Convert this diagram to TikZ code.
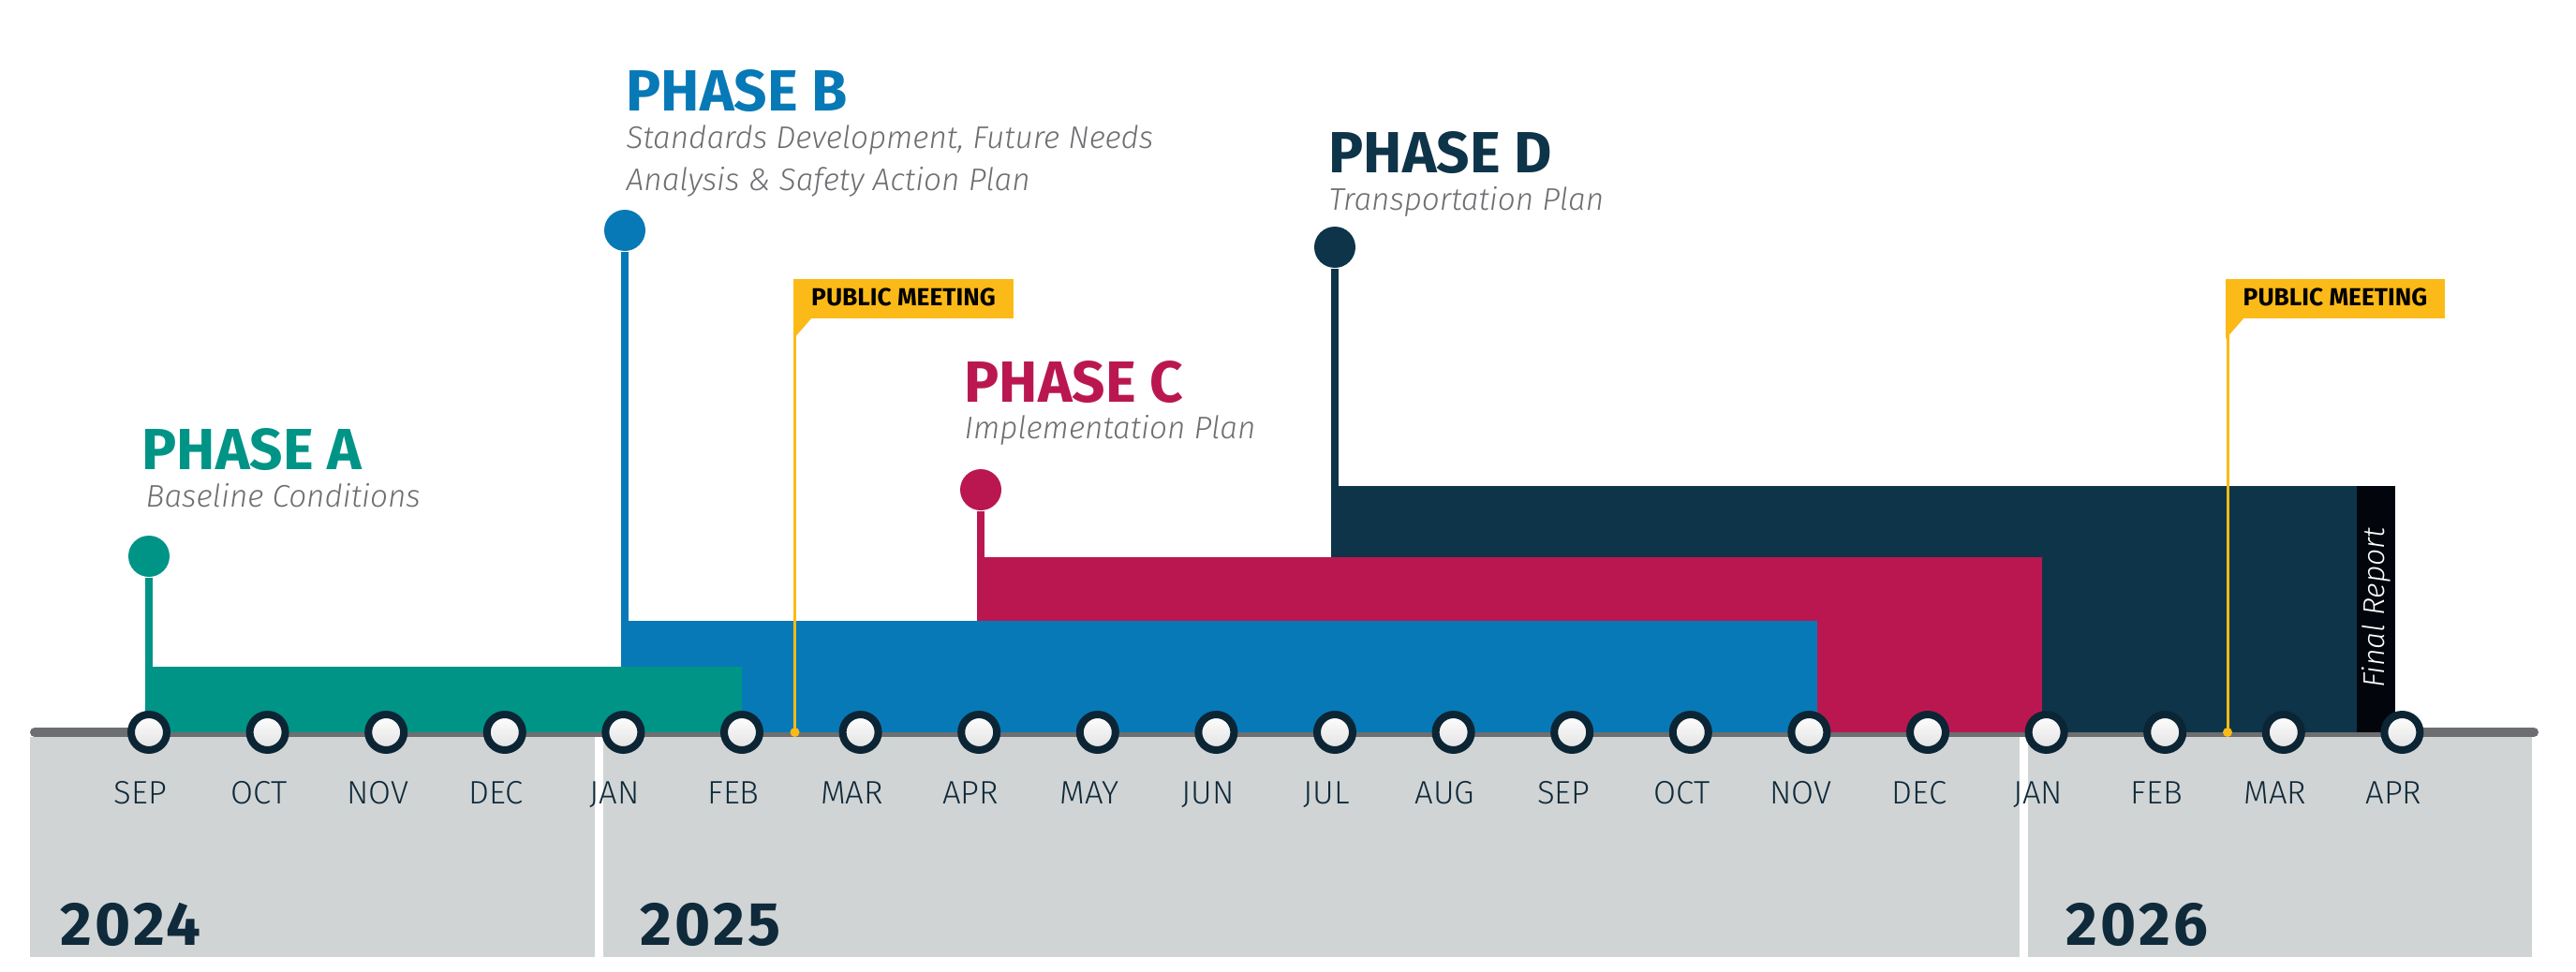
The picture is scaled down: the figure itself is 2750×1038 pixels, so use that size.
\documentclass[tikz,border=0pt]{standalone}
\usepackage{fontspec}
\setmainfont{Fira Sans}
\newfontfamily\lightfont{Fira Sans Light}[ItalicFont={Fira Sans Light Italic}]
\definecolor{cteal}{HTML}{009487}
\definecolor{cblue}{HTML}{0779B7}
\definecolor{ccrim}{HTML}{BA1751}
\definecolor{cnavy}{HTML}{0E3449}
\definecolor{cblack}{HTML}{02060C}
\definecolor{cyel}{HTML}{FBBA17}
\definecolor{cline}{HTML}{6D6E71}
\definecolor{cpanel}{HTML}{D1D4D5}
\definecolor{cmonth}{HTML}{0F2A3A}
\definecolor{cring}{HTML}{0C2535}
\definecolor{csub}{HTML}{6D6E71}
\tikzset{
  monthdot/.style={circle, draw=cring, line width=2.4pt, minimum size=11.4pt, inner sep=0pt, top color=white, bottom color=black!12},
  phasedot/.style={circle, fill=#1, minimum size=13.2pt, inner sep=0pt},
  stem/.style={line width=2.4pt},
  monthlbl/.style={anchor=base, inner sep=0pt, text=cmonth, font=\lightfont\fontsize{10.4}{12}\selectfont},
  yearlbl/.style={anchor=base west, inner sep=0pt, text=cmonth, font=\bfseries\fontsize{19.6}{21}\selectfont\addfontfeature{LetterSpace=5}},
  phasettl/.style={anchor=base west, inner sep=0pt, text=#1, font=\bfseries\fontsize{18.6}{20}\selectfont},
  phasesub/.style={anchor=base west, inner sep=0pt, text=csub, font=\lightfont\itshape\fontsize{10}{13.5}\selectfont},
  flagtxt/.style={anchor=base, inner sep=0pt, text=black, font=\bfseries\fontsize{7.9}{8}\selectfont},
  ydot/.style={circle, fill=cyel, minimum size=3pt, inner sep=0pt},
}
\begin{document}
\begin{tikzpicture}[x=0.3pt, y=-0.3pt]
\useasboundingbox (0,0) rectangle (2750,1038);
% year panels
\fill[cpanel] (32,787) rectangle (635,1022);
\fill[cpanel] (644,787) rectangle (2156,1022);
\fill[cpanel] (2165,787) rectangle (2703,1022);
% timeline
\coordinate (tl0) at (37,782);
\coordinate (tl1) at (2705,782);
\draw[cline, line width=3pt, line cap=round] (tl0) -- (tl1);
% phase bars (back to front)
\fill[cnavy] (1421,519) rectangle (2557,782);
\fill[cblack] (2516,519) rectangle (2557,782);
\node[rotate=90, inner sep=0pt, text=white, font=\lightfont\itshape\fontsize{9.6}{10}\selectfont] (fr) at (2537,649) {Final Report};
\fill[ccrim] (1043,595) rectangle (2180,782);
\fill[cblue] (663,663) rectangle (1940,782);
\fill[cteal] (155,712) rectangle (792,782);
% phase dots and stems
\node[phasedot=cteal] (pa) at (159,594) {};
\node[phasedot=cblue] (pb) at (667,246) {};
\node[phasedot=ccrim] (pc) at (1047,523) {};
\node[phasedot=cnavy] (pd) at (1425,264) {};
\coordinate (pa1) at (159,714);
\coordinate (pb1) at (667,665);
\coordinate (pc1) at (1047,597);
\coordinate (pd1) at (1425,521);
\draw[stem, cteal] (pa) -- (pa1);
\draw[stem, cblue] (pb) -- (pb1);
\draw[stem, ccrim] (pc) -- (pc1);
\draw[stem, cnavy] (pd) -- (pd1);
% public meeting flags
\fill[cyel] (847,298) rectangle (1082,340);
\fill[cyel] (847,339) -- (867,339) -- (847,362) -- cycle;
\node[flagtxt] (f1) at (964.5,326) {PUBLIC MEETING};
\node[ydot] (y1) at (848.5,782) {};
\coordinate (f1b) at (848.5,340);
\draw[cyel, line width=0.9pt] (f1b) -- (y1.center);
\fill[cyel] (2376,298) rectangle (2610,340);
\fill[cyel] (2376,339) -- (2396,339) -- (2376,362) -- cycle;
\node[flagtxt] (f2) at (2493,326) {PUBLIC MEETING};
\node[ydot] (y2) at (2378,782) {};
\coordinate (f2b) at (2378,340);
\draw[cyel, line width=0.9pt] (f2b) -- (y2.center);
% month markers
\foreach \m [count=\i from 0] in {SEP,OCT,NOV,DEC,JAN,FEB,MAR,APR,MAY,JUN,JUL,AUG,SEP,OCT,NOV,DEC,JAN,FEB,MAR,APR} {
  \pgfmathsetmacro{\xx}{159+\i*126.6}
  \node[monthdot] (m\i) at (\xx,782) {};
  \node[monthlbl] (l\i) at (\xx-9,858) {\m};
}
% years
\node[yearlbl] (y2024) at (64,1009) {2024};
\node[yearlbl] (y2025) at (683,1009) {2025};
\node[yearlbl] (y2026) at (2205,1009) {2026};
% phase titles
\node[phasettl=cteal] (ta) at (151,501) {PHASE A};
\node[phasesub] (sa) at (155,541) {Baseline Conditions};
\node[phasettl=cblue] (tb) at (668,118) {PHASE B};
\node[phasesub] (sb1) at (668,158) {Standards Development, Future Needs};
\node[phasesub] (sb2) at (668,203) {Analysis \& Safety Action Plan};
\node[phasettl=ccrim] (tc) at (1029,429) {PHASE C};
\node[phasesub] (sc) at (1029,468) {Implementation Plan};
\node[phasettl=cnavy] (td) at (1418,184) {PHASE D};
\node[phasesub] (sd) at (1418,224) {Transportation Plan};
\end{tikzpicture}
\end{document}
